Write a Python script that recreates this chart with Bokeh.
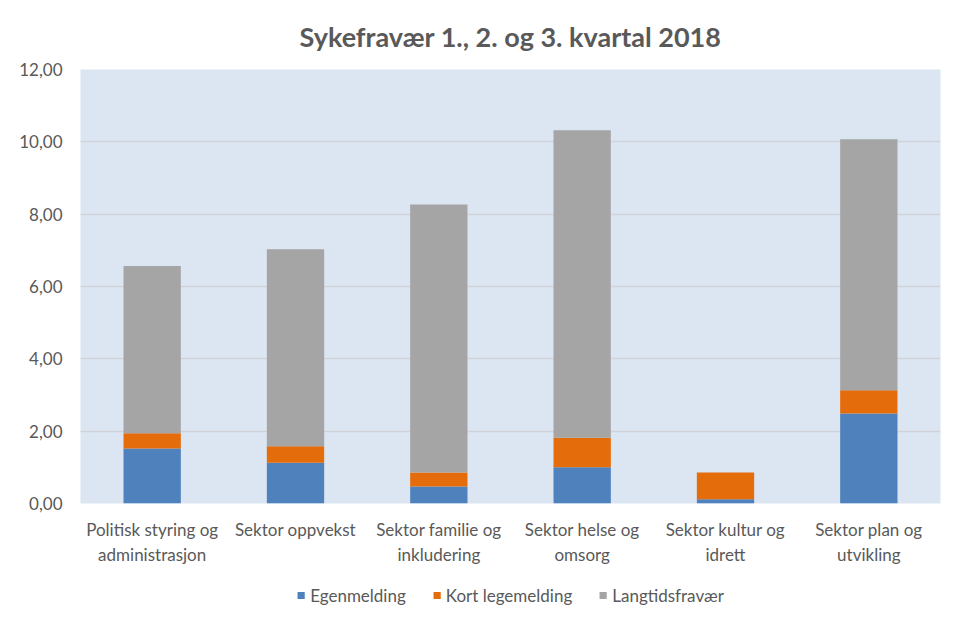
from bokeh.plotting import figure
from bokeh.layouts import column
from bokeh.models import ColumnDataSource, FixedTicker, Legend, LegendItem, Range1d
from bokeh.embed import file_html
from bokeh.resources import INLINE

categories = ["Politisk styring og\nadministrasjon", "Sektor oppvekst",
              "Sektor familie og\ninkludering", "Sektor helse og\nomsorg",
              "Sektor kultur og\nidrett", "Sektor plan og\nutvikling"]
series = ["Egenmelding", "Kort legemelding", "Langtidsfravær"]
egenmelding = [1.52, 1.13, 0.47, 1.00, 0.12, 2.49]
kort_legemelding = [0.42, 0.45, 0.39, 0.82, 0.74, 0.64]
langtidsfravaer = [4.63, 5.45, 7.41, 8.50, 0.00, 6.94]
y_ticks = [0, 2, 4, 6, 8, 10, 12]
y_tick_labels = ["0,00", "2,00", "4,00", "6,00", "8,00", "10,00", "12,00"]
colors = ["#4F81BD", "#E46C0A", "#A5A5A5"]

FONT = "Lato"
TXT = "#595959"

source = ColumnDataSource(data={
    "cat": categories,
    series[0]: egenmelding,
    series[1]: kort_legemelding,
    series[2]: langtidsfravaer,
})

p = figure(x_range=categories, y_range=Range1d(0, 12), width=957, height=575,
           output_backend="svg", toolbar_location=None,
           min_border_left=80, min_border_right=17, min_border_top=69, min_border_bottom=72)

p.title.text = "Sykefravær 1., 2. og 3. kvartal 2018"
p.title.align = "center"
p.title.text_font = FONT
p.title.text_font_style = "bold"
p.title.text_font_size = "27px"
p.title.text_color = TXT
p.title.standoff = 34

renderers = p.vbar_stack(series, x="cat", width=0.4, source=source, color=colors,
                         line_color=None)

p.background_fill_color = "#DCE6F2"
p.border_fill_color = "white"
p.outline_line_color = None

p.yaxis.ticker = FixedTicker(ticks=y_ticks)
p.yaxis.major_label_overrides = {t: l for t, l in zip(y_ticks, y_tick_labels)}
p.yaxis.axis_line_color = None
p.yaxis.major_tick_line_color = None
p.yaxis.minor_tick_line_color = None
p.yaxis.major_label_text_font = FONT
p.yaxis.major_label_text_font_size = "17px"
p.yaxis.major_label_text_color = TXT
p.yaxis.major_label_standoff = 12

p.xaxis.axis_line_color = None
p.xaxis.major_tick_line_color = None
p.xaxis.major_label_text_font = FONT
p.xaxis.major_label_text_font_size = "17px"
p.xaxis.major_label_text_color = TXT
p.xaxis.major_label_standoff = 9

p.xgrid.grid_line_color = None
p.ygrid.grid_line_color = "#D0D4DA"
p.ygrid.grid_line_width = 1.5
p.ygrid.ticker = FixedTicker(ticks=y_ticks)

# Legend strip: a second, axis-less figure holding the legend inside its frame.
lf = figure(x_range=categories, y_range=Range1d(100, 101), width=957, height=40,
            output_backend="svg", toolbar_location=None,
            x_axis_type=None, y_axis_type=None, min_border=0)
lf.outline_line_color = None
lf.grid.grid_line_color = None
lf.background_fill_color = "white"
lf.border_fill_color = "white"
legend_renderers = lf.vbar_stack(series, x="cat", width=0.4, source=source, color=colors,
                                 line_color=None)

legend = Legend(items=[LegendItem(label=s, renderers=[r]) for s, r in zip(series, legend_renderers)],
                orientation="horizontal", location="center",
                glyph_width=9, glyph_height=9, spacing=26, padding=0,
                label_text_font=FONT, label_text_font_size="17px", label_text_color=TXT,
                label_standoff=5, border_line_color=None, background_fill_alpha=0)
lf.add_layout(legend)

layout = column(p, lf, spacing=0)

open("out.html", "w").write(file_html(layout, INLINE))
